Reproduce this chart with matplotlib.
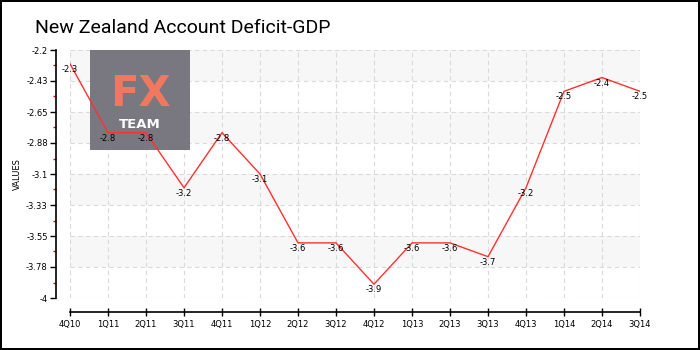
import numpy as np
import matplotlib.pyplot as plt
from matplotlib.patches import Rectangle
from matplotlib.ticker import AutoMinorLocator

quarters = ["4Q10", "1Q11", "2Q11", "3Q11", "4Q11", "1Q12", "2Q12", "3Q12",
            "4Q12", "1Q13", "2Q13", "3Q13", "4Q13", "1Q14", "2Q14", "3Q14"]
values = [-2.3, -2.8, -2.8, -3.2, -2.8, -3.1, -3.6, -3.6,
          -3.9, -3.6, -3.6, -3.7, -3.2, -2.5, -2.4, -2.5]
ytick_vals = [-2.2, -2.425, -2.65, -2.875, -3.1, -3.325, -3.55, -3.775, -4.0]
ytick_labels = ["-2.2", "-2.43", "-2.65", "-2.88", "-3.1", "-3.33", "-3.55", "-3.78", "-4"]

W, H = 700, 350
fig = plt.figure(figsize=(7, 3.5), dpi=100)
fig.patch.set_facecolor("white")
fig.patch.set_edgecolor("black")
fig.patch.set_linewidth(1.5)

# axes box in pixels: x 70..640, y 50..298
ax = fig.add_axes([70 / W, 1 - 298 / H, 570 / W, 248 / H])
x = np.arange(len(quarters))
ax.set_xlim(0, len(quarters) - 1)
ax.set_ylim(-4.0, -2.2)

# alternating bands
for i in range(len(ytick_vals) - 1):
    if i % 2 == 0:
        ax.axhspan(ytick_vals[i + 1], ytick_vals[i], color="#f7f7f7", zorder=0, lw=0)

for yv in ytick_vals:
    ax.axhline(yv, color="#dadada", ls=(0, (4, 3)), lw=0.8, zorder=0.5)
for xv in x:
    ax.axvline(xv, color="#dadada", ls=(0, (4, 3)), lw=0.8, zorder=0.5)

# logo watermark
ax.add_patch(Rectangle((90 / W, 1 - 150 / H), 100 / W, 100 / H, transform=fig.transFigure,
                       facecolor="#797880", edgecolor="none", zorder=1.5, clip_on=False))
ax.text(140 / W, 1 - 106 / H, "FX", transform=fig.transFigure, color="#f2775f",
        fontsize=30, fontweight="bold", ha="center", va="baseline", zorder=1.6)
ax.text(140 / W, 1 - 128 / H, "TEAM", transform=fig.transFigure, color="white",
        fontsize=9.5, fontweight="bold", ha="center", va="baseline", zorder=1.6)

ax.plot(x, values, color="#ff3030", lw=1.0, zorder=3)
for xi, v in zip(x, values):
    ax.annotate(f"{v:g}", (xi, v), xytext=(0, -4), textcoords="offset points",
                ha="center", va="center", fontsize=6, zorder=4)

for s in ["top", "right"]:
    ax.spines[s].set_visible(False)
ax.spines["left"].set_position(("outward", 10))
ax.spines["bottom"].set_position(("outward", 10))
ax.spines["left"].set_linewidth(1.2)
ax.spines["bottom"].set_linewidth(1.2)

ax.set_yticks(ytick_vals)
ax.set_yticklabels(ytick_labels, fontsize=6)
ax.yaxis.set_minor_locator(AutoMinorLocator(2))
ax.tick_params(axis="y", which="major", length=4, width=1, pad=2)
ax.tick_params(axis="y", which="minor", length=2.5, width=1, color="red")
ax.set_xticks(x)
ax.set_xticklabels(quarters, fontsize=6)
ax.tick_params(axis="x", direction="inout", length=6, width=1, pad=3)

ax.set_ylabel("VALUES", fontsize=6, labelpad=3)

fig.text(35 / W, 1 - 28 / H, "New Zealand Account Deficit-GDP",
         fontsize=14, family=["Roboto", "DejaVu Sans"],
         ha="left", va="center")

fig.savefig("out.png", dpi=100)
